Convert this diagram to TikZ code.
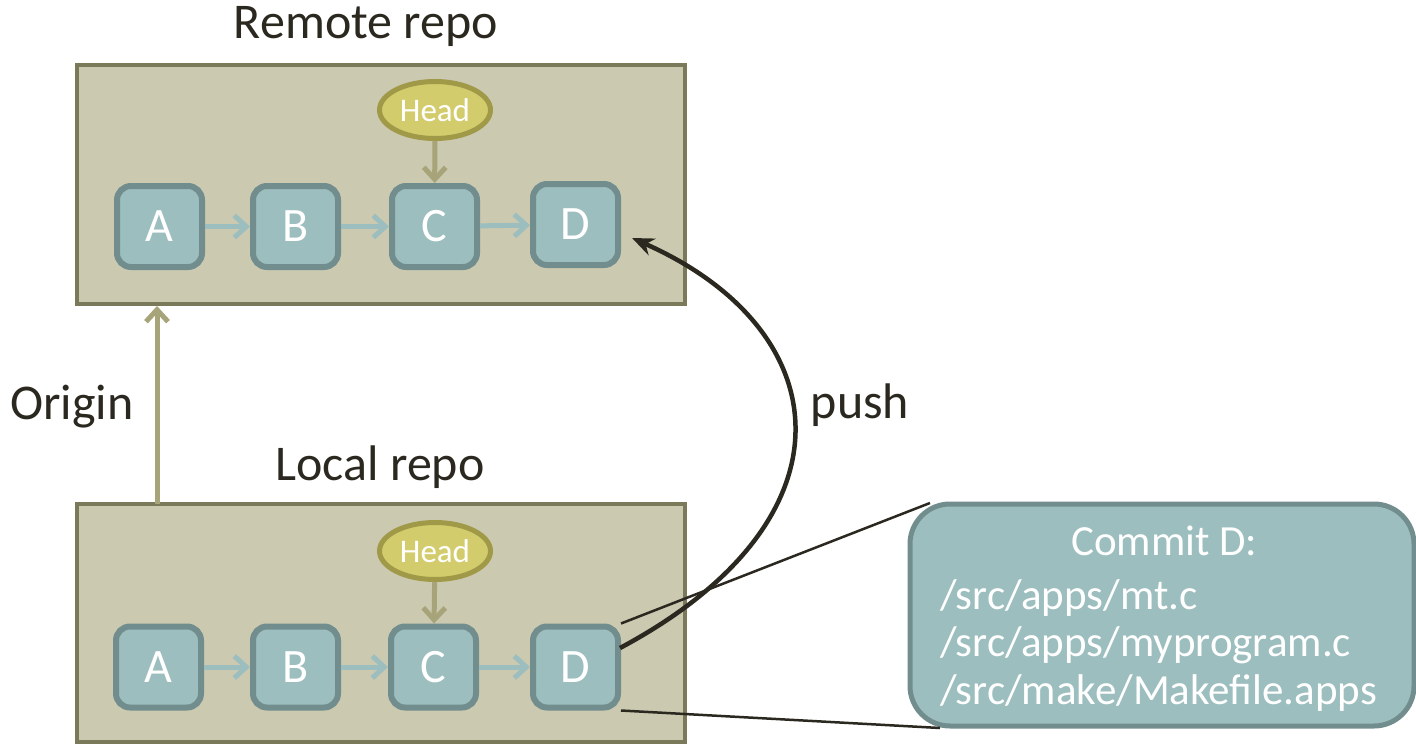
\documentclass[tikz,border=0pt]{standalone}
\usepackage{fontspec}
\setmainfont{Carlito}
\usetikzlibrary{arrows.meta,shapes.geometric}
\definecolor{repofill}{HTML}{CBC9B0}
\definecolor{repoline}{HTML}{7A795A}
\definecolor{cfill}{HTML}{9DBEBE}
\definecolor{cline}{HTML}{718D8D}
\definecolor{headfill}{HTML}{D3CC6D}
\definecolor{headline}{HTML}{A09A48}
\definecolor{headarrow}{HTML}{A8A47A}
\definecolor{ink}{HTML}{2B2820}
\tikzset{
  repo/.style={draw=repoline,fill=repofill,line width=4pt},
  commit/.style={draw=cline,fill=cfill,line width=6pt,rounded corners=14pt,
    minimum width=85pt,minimum height=81pt,inner sep=0pt,text=white,
    font=\fontsize{48}{52}\selectfont},
  head/.style={ellipse,draw=headline,fill=headfill,line width=5pt,
    minimum width=111pt,minimum height=57pt,inner sep=0pt,text=white,
    font=\fontsize{33}{36}\selectfont},
  link/.style={draw=cfill,line width=5pt,-{Straight Barb[length=12pt,width=22pt,line width=5pt]}},
  headlink/.style={draw=headarrow,line width=5pt,-{Straight Barb[length=12pt,width=22pt,line width=5pt]}},
  title/.style={text=ink,font=\fontsize{50}{54}\selectfont},
  leader/.style={draw=ink,line width=2.5pt}
}
\begin{document}
\begin{tikzpicture}[x=1pt,y=-1pt]
\useasboundingbox (0,0) rectangle (1416,744);
% repositories
\draw[repo] (77,65) rectangle (685,304);
\draw[repo] (77,504) rectangle (685,742);
\node[title] (rt) at (366,26) {Remote repo};
\node[title] (lt) at (380,467) {Local repo};
\node[title] (orig) at (72,407) {Origin};
\node[title] (push) at (860,405) {push};
% remote commits
\node[commit] (ra) at (159.5,226.5) {A};
\node[commit] (rb) at (295.5,226.5) {B};
\node[commit] (rc) at (434.5,226.5) {C};
\node[commit] (rd) at (575.5,224.5) {D};
\node[head] (rh) at (435,110) {Head};
\draw[link] (ra) -- (rb);
\draw[link] (rb) -- (rc);
\draw[link] (rc) -- (rd);
\draw[headlink] (rh) -- (rc);
% local commits
\node[commit] (la) at (158.5,667) {A};
\node[commit] (lb) at (295.5,667) {B};
\node[commit] (lc) at (433.5,667) {C};
\node[commit] (ld) at (575.5,667) {D};
\node[head] (lh) at (435,551) {Head};
\draw[link] (la) -- (lb);
\draw[link] (lb) -- (lc);
\draw[link] (lc) -- (ld);
\draw[headlink] (lh) -- (lc);
% origin link
\coordinate (ob) at (157,504);
\coordinate (ot) at (157,306);
\draw[headlink] (ob) -- (ot);
% commit details
\node[draw=cline,fill=cfill,line width=5pt,rounded corners=40pt,
  minimum width=504pt,minimum height=222pt,inner sep=0pt] (info) at (1162,615) {};
\node[text=white,font=\fontsize{43}{47.5}\selectfont,align=left,anchor=north west,inner sep=0pt]
  (infot) at (940,526) {\hspace*{131pt}Commit D:\\[6pt]/src/apps/mt.c\\/src/apps/myprogram.c\\/src/make/Makefile.apps};
\coordinate (c1) at (930,503);
\coordinate (c2) at (940,728);
\draw[leader] (ld.north east) -- (c1);
\draw[leader] (ld.south east) -- (c2);
% push
\coordinate (ps) at (620,648);
\coordinate (pe) at (632,238);
\draw[draw=ink,line width=4.5pt,-{Stealth[length=22pt,width=18pt]}]
  (ps) .. controls (860,520) and (840,330) .. (pe);
\end{tikzpicture}
\end{document}
